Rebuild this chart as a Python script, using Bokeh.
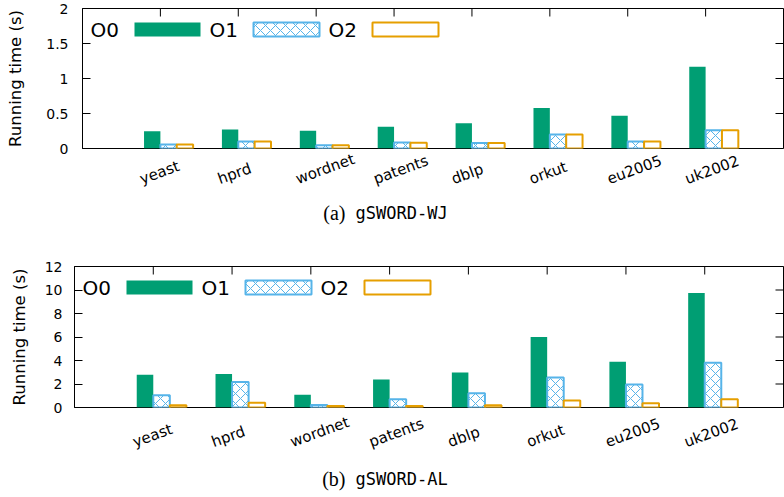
import math
from bokeh.plotting import figure
from bokeh.models import Range1d, FixedTicker, Label, BoxAnnotation, PrintfTickFormatter
from bokeh.layouts import column
from bokeh.embed import file_html
from bokeh.resources import INLINE

# ---------------- data ----------------
categories = ["yeast", "hprd", "wordnet", "patents", "dblp", "orkut", "eu2005", "uk2002"]
series = ["O0", "O1", "O2"]

wj_o0 = [0.245, 0.27, 0.255, 0.31, 0.36, 0.577, 0.468, 1.167]
wj_o1 = [0.058, 0.10, 0.048, 0.085, 0.08, 0.20, 0.10, 0.26]
wj_o2 = [0.058, 0.10, 0.048, 0.082, 0.08, 0.20, 0.10, 0.26]

al_o0 = [2.78, 2.86, 1.09, 2.38, 2.97, 6.0, 3.9, 9.75]
al_o1 = [1.05, 2.17, 0.22, 0.70, 1.22, 2.55, 1.95, 3.80]
al_o2 = [0.20, 0.40, 0.12, 0.13, 0.20, 0.60, 0.36, 0.70]

wj_yticks = [0, 0.5, 1, 1.5, 2]
al_yticks = [0, 2, 4, 6, 8, 10, 12]

captions = [("(a)", "gSWORD-WJ"), ("(b)", "gSWORD-AL")]

# ---------------- style ----------------
GREEN = "#009E73"
BLUE = "#56B4E9"
ORANGE = "#E69F00"
FONT = "DejaVu Sans"
BAR_W = 0.21
WIDTH = 784
X0, X1 = -1, 8
OVERLAP = 8  # label strip slides up over the panel's bottom border

styles = [
    dict(fill_color=GREEN, line_color=None),
    dict(fill_color="white", line_color=BLUE, line_width=2, hatch_pattern="diagonal_cross",
         hatch_color=BLUE, hatch_scale=10, hatch_weight=1),
    dict(fill_color="white", line_color=ORANGE, line_width=2),
]


def make_panel(values, ymax, yticks, height, b_top, b_bottom, b_left, tick_standoff,
               label_standoff):
    p = figure(width=WIDTH, height=height, output_backend="svg", toolbar_location=None,
               x_range=Range1d(X0, X1), y_range=Range1d(0, ymax),
               min_border_top=b_top, min_border_bottom=b_bottom,
               min_border_left=b_left, min_border_right=1, frame_align=False,
               background_fill_color="white", border_fill_color="white")
    p.xgrid.visible = False
    p.ygrid.visible = False
    p.outline_line_color = "black"
    p.outline_line_width = 1
    p.outline_line_alpha = 1

    idx = list(range(len(categories)))
    offsets = [-0.5, 0.5, 1.5]
    for vals, off, st in zip(values, offsets, styles):
        p.vbar(x=[i + off * BAR_W for i in idx], top=vals, width=BAR_W, bottom=0, **st)

    # mirrored tick marks on the top (category positions) and right (y ticks) borders
    p.rect(x=idx, y=[ymax] * len(idx), width=1, height=16, width_units="screen",
           height_units="screen", fill_color="black", line_color=None)
    p.rect(x=[X1] * len(yticks), y=yticks, width=16, height=1, width_units="screen",
           height_units="screen", fill_color="black", line_color=None)

    p.xaxis.visible = False

    ya = p.yaxis[0]
    ya.ticker = FixedTicker(ticks=yticks)
    ya.formatter = PrintfTickFormatter(format="%g")
    ya.major_tick_in = 8
    ya.major_tick_out = 0
    ya.minor_tick_line_color = None
    ya.major_label_standoff = tick_standoff
    ya.major_label_text_font = FONT
    ya.major_label_text_font_size = "14px"
    ya.major_label_text_color = "black"
    ya.axis_label = "Running time (s)"
    ya.axis_label_text_font = FONT
    ya.axis_label_text_font_size = "16.5px"
    ya.axis_label_text_font_style = "normal"
    ya.axis_label_text_color = "black"
    ya.axis_label_standoff = label_standoff
    ya.axis_line_color = "black"
    ya.major_tick_line_color = "black"

    # legend: label then swatch (gnuplot style)
    frame_h = height - b_top - b_bottom
    pitch = 119
    for k, name in enumerate(series):
        x0 = 8 + pitch * k
        p.add_layout(Label(x=x0, y=frame_h - 21, x_units="screen", y_units="screen",
                           text=name, text_align="left", text_baseline="middle",
                           text_font=FONT, text_font_size="20px", text_color="black"))
        st = styles[k]
        box = BoxAnnotation(left=x0 + 44, right=x0 + 110, top=frame_h - 14, bottom=frame_h - 28,
                            left_units="screen", right_units="screen",
                            top_units="screen", bottom_units="screen",
                            fill_alpha=1.0, line_alpha=1.0, fill_color=st["fill_color"])
        if st.get("line_color") is None:
            box.line_color = None
        else:
            box.line_color = st["line_color"]
            box.line_width = st["line_width"]
        if "hatch_pattern" in st:
            box.hatch_pattern = st["hatch_pattern"]
            box.hatch_color = st["hatch_color"]
            box.hatch_scale = st["hatch_scale"]
            box.hatch_weight = st["hatch_weight"]
        p.add_layout(box)
    return p


def make_strip(panel, height, b_left, cat_y, cap_y, caption, cap_x):
    s = figure(width=WIDTH, height=height, output_backend="svg", toolbar_location=None,
               x_range=panel.x_range, y_range=Range1d(0, 1), frame_align=False,
               min_border_top=0, min_border_bottom=0, min_border_left=b_left, min_border_right=1,
               background_fill_color=None, border_fill_color=None,
               styles={"margin-top": f"-{OVERLAP}px"})
    s.axis.visible = False
    s.grid.visible = False
    s.outline_line_color = None
    for i, name in enumerate(categories):
        s.add_layout(Label(x=i, y=cat_y, x_units="data", y_units="screen",
                           x_offset=-20, text=name, angle=math.radians(20),
                           text_align="left", text_baseline="alphabetic",
                           text_font=FONT, text_font_size="15px", text_color="black"))
    tag, name = caption
    s.add_layout(Label(x=cap_x, y=cap_y, x_units="screen", y_units="screen", text=tag,
                       text_align="right", text_baseline="middle",
                       text_font="Liberation Serif", text_font_size="20px", text_color="black"))
    s.add_layout(Label(x=cap_x + 10, y=cap_y, x_units="screen", y_units="screen", text=name,
                       text_align="left", text_baseline="middle",
                       text_font="DejaVu Sans Mono", text_font_size="17px", text_color="black"))
    return s


# panel 1: canvas 0..157 (frame 8..148) ; strip 149..258 (overlapping 8px)
# panel 2: canvas 258..416 (frame 266..407) ; strip 408..497 (overlapping 8px)
S1_TOP, S1_H = 157 - OVERLAP, 109
S2_TOP, S2_H = 416 - OVERLAP, 89
p1 = make_panel([wj_o0, wj_o1, wj_o2], 2, wj_yticks, height=157, b_top=8, b_bottom=9,
                b_left=82, tick_standoff=14, label_standoff=18)
s1 = make_strip(p1, height=S1_H, b_left=82, cat_y=S1_H - (179 - S1_TOP),
                cap_y=S1_H - (212 - S1_TOP), caption=captions[0], cap_x=263)
p2 = make_panel([al_o0, al_o1, al_o2], 12, al_yticks, height=158, b_top=8, b_bottom=9,
                b_left=74, tick_standoff=12, label_standoff=13)
s2 = make_strip(p2, height=S2_H, b_left=74, cat_y=S2_H - (442 - S2_TOP),
                cap_y=S2_H - (478 - S2_TOP), caption=captions[1], cap_x=271)

layout = column(p1, s1, p2, s2, spacing=0)

with open("out.html", "w") as f:
    f.write(file_html(layout, INLINE))
